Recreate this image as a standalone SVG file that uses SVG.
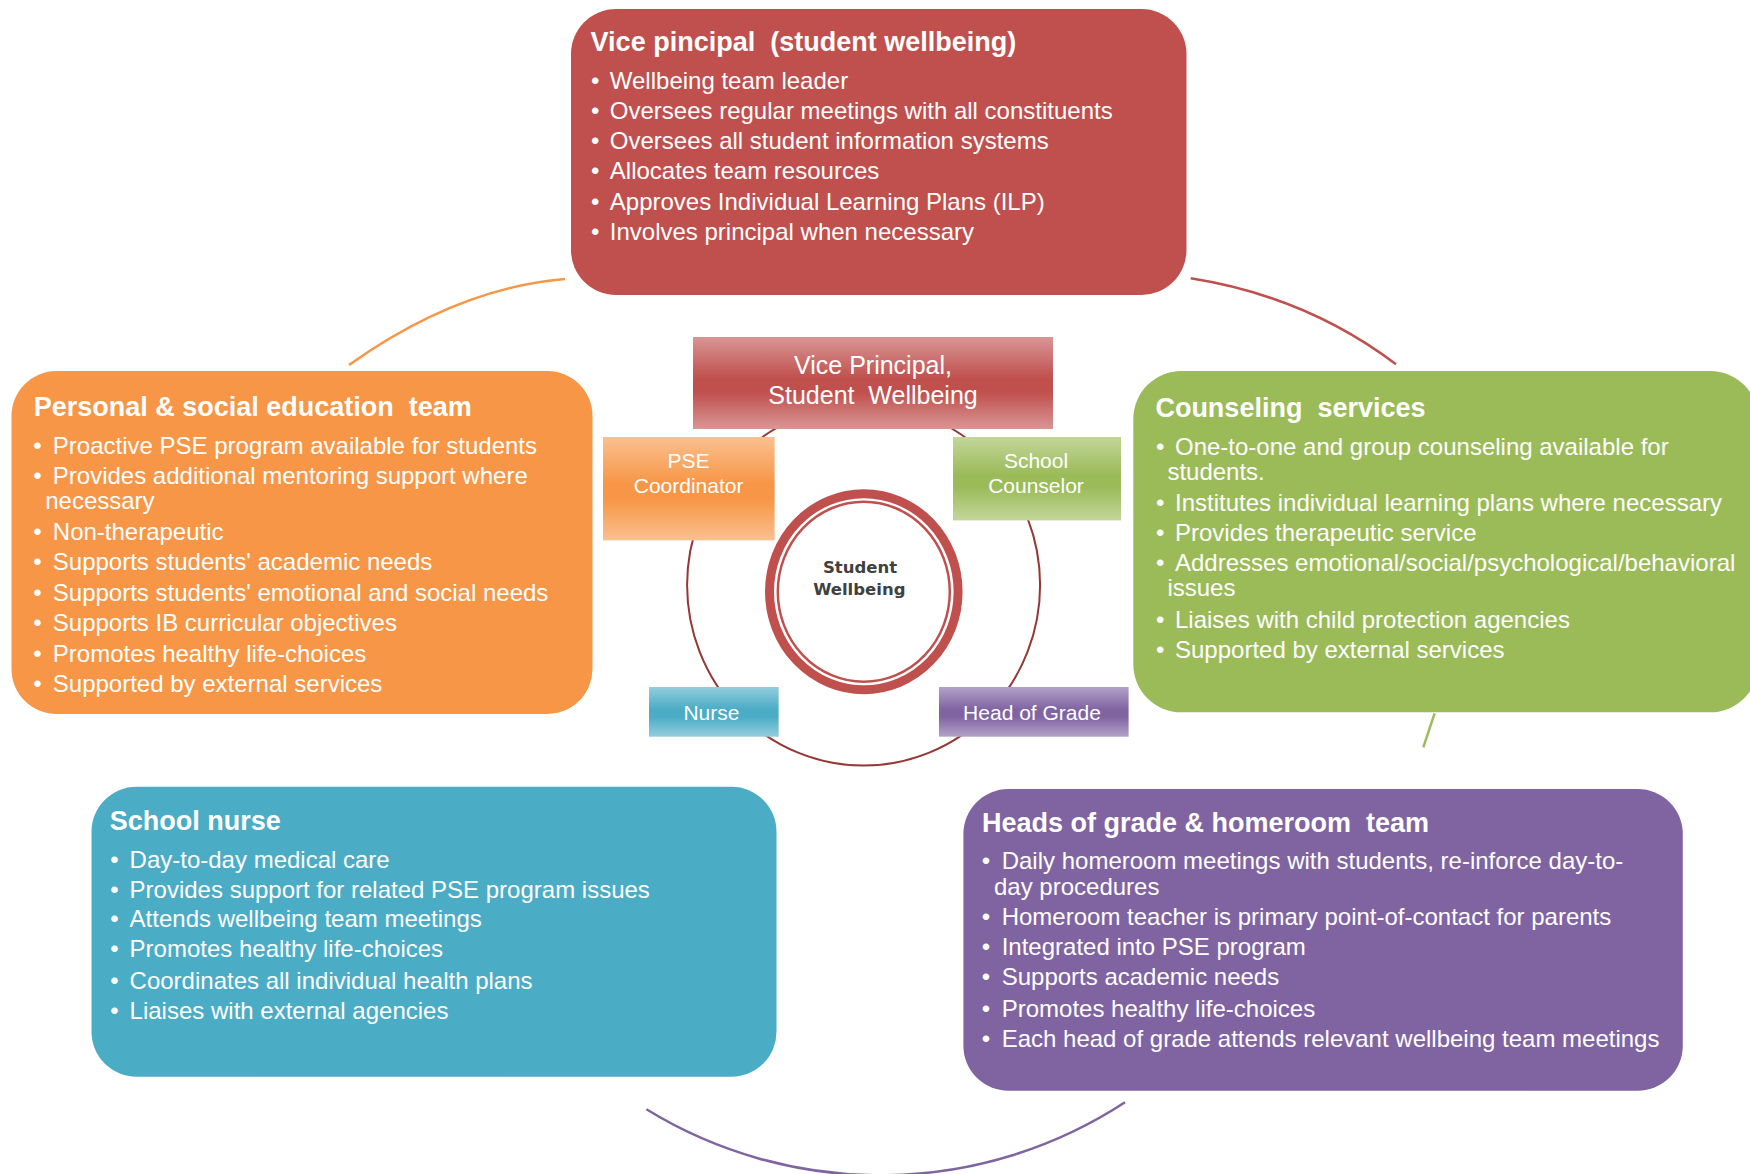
<svg xmlns="http://www.w3.org/2000/svg" width="1750" height="1174" viewBox="0 0 1750 1174">
<defs>
<style>
.t{font-family:"Liberation Sans",Arial,sans-serif;font-weight:bold;font-size:27px;fill:#fff;white-space:pre}
.b{font-family:"Liberation Sans",Arial,sans-serif;font-size:24px;fill:#fff}
.s{font-family:"Liberation Sans",Arial,sans-serif;font-size:21px;fill:#fff;text-anchor:middle}
.v{font-family:"Liberation Sans",Arial,sans-serif;font-size:25px;fill:#fff;text-anchor:middle;white-space:pre}
.c{font-family:"DejaVu Sans",Verdana,sans-serif;font-weight:bold;font-size:16.5px;fill:#404040;text-anchor:middle}
.arc{fill:none;stroke-width:2.5}
</style>
<linearGradient id="gR" x1="0" y1="0" x2="0" y2="1"><stop offset="0" stop-color="#d99694"/><stop offset="0.45" stop-color="#c0504d"/><stop offset="0.6" stop-color="#c0504d"/><stop offset="1" stop-color="#d99694"/></linearGradient>
<linearGradient id="gO" x1="0" y1="0" x2="0" y2="1"><stop offset="0" stop-color="#fac090"/><stop offset="0.45" stop-color="#f79646"/><stop offset="0.6" stop-color="#f79646"/><stop offset="1" stop-color="#fac090"/></linearGradient>
<linearGradient id="gG" x1="0" y1="0" x2="0" y2="1"><stop offset="0" stop-color="#c3d69b"/><stop offset="0.45" stop-color="#9bbb59"/><stop offset="0.6" stop-color="#9bbb59"/><stop offset="1" stop-color="#c3d69b"/></linearGradient>
<linearGradient id="gB" x1="0" y1="0" x2="0" y2="1"><stop offset="0" stop-color="#93cddd"/><stop offset="0.45" stop-color="#4bacc6"/><stop offset="0.6" stop-color="#4bacc6"/><stop offset="1" stop-color="#93cddd"/></linearGradient>
<linearGradient id="gP" x1="0" y1="0" x2="0" y2="1"><stop offset="0" stop-color="#b2a2c7"/><stop offset="0.45" stop-color="#8064a2"/><stop offset="0.6" stop-color="#8064a2"/><stop offset="1" stop-color="#b2a2c7"/></linearGradient>
</defs>
<rect width="1750" height="1174" fill="#fff"/>

<g id="connectors">
<ellipse cx="863.6" cy="585" rx="176.5" ry="180.6" fill="none" stroke="#953735" stroke-width="2"/>
<path class="arc" d="M349 365 Q457 288 565 279" stroke="#f79646"/>
<path class="arc" d="M1190.7 278.3 Q1306.6 296.6 1396 364.3" stroke="#c0504d"/>
<path class="arc" d="M1434.6 713.3 L1423.3 747.3" stroke="#9bbb59" stroke-width="2"/>
<path class="arc" d="M646.4 1109.3 A447 447 0 0 0 1125 1102.3" stroke="#8064a2"/>
</g>

<g id="vp-team">
<rect x="571" y="9" width="615.5" height="286" rx="45" fill="#c0504d"/>
<text class="t" x="590.6" y="50.7">Vice pincipal  (student wellbeing)</text>
<text class="b" y="89.3"><tspan x="591">•</tspan><tspan x="609.8">Wellbeing team leader</tspan></text>
<text class="b" y="118.7"><tspan x="591">•</tspan><tspan x="609.8">Oversees regular meetings with all constituents</tspan></text>
<text class="b" y="149"><tspan x="591">•</tspan><tspan x="609.8">Oversees all student information systems</tspan></text>
<text class="b" y="179"><tspan x="591">•</tspan><tspan x="609.8">Allocates team resources</tspan></text>
<text class="b" y="210"><tspan x="591">•</tspan><tspan x="609.8">Approves Individual Learning Plans (ILP)</tspan></text>
<text class="b" y="240"><tspan x="591">•</tspan><tspan x="609.8">Involves principal when necessary</tspan></text>
</g>

<g id="pse-team">
<rect x="11.5" y="371" width="581" height="343" rx="45" fill="#f79646"/>
<text class="t" x="33.7" y="415.7">Personal &amp; social education  team</text>
<text class="b" y="454"><tspan x="33.3">•</tspan><tspan x="52.8">Proactive PSE program available  for students</tspan></text>
<text class="b" y="484"><tspan x="33.3">•</tspan><tspan x="52.8">Provides additional mentoring support where</tspan></text>
<text class="b" x="45.2" y="509.3">necessary</text>
<text class="b" y="540"><tspan x="33.3">•</tspan><tspan x="52.8">Non-therapeutic</tspan></text>
<text class="b" y="570"><tspan x="33.3">•</tspan><tspan x="52.8">Supports students' academic needs</tspan></text>
<text class="b" y="600.7"><tspan x="33.3">•</tspan><tspan x="52.8">Supports students' emotional and social needs</tspan></text>
<text class="b" y="630.7"><tspan x="33.3">•</tspan><tspan x="52.8">Supports IB curricular objectives</tspan></text>
<text class="b" y="661.7"><tspan x="33.3">•</tspan><tspan x="52.8">Promotes healthy life-choices</tspan></text>
<text class="b" y="692.3"><tspan x="33.3">•</tspan><tspan x="52.8">Supported by external services</tspan></text>
</g>

<g id="counseling">
<rect x="1133.3" y="371" width="625" height="341.3" rx="48" fill="#9bbb59"/>
<text class="t" x="1155.4" y="417.3">Counseling  services</text>
<text class="b" y="455"><tspan x="1156">•</tspan><tspan x="1175">One-to-one and group counseling available for</tspan></text>
<text class="b" x="1167.4" y="480">students.</text>
<text class="b" y="510.7"><tspan x="1156">•</tspan><tspan x="1175">Institutes individual learning plans where necessary</tspan></text>
<text class="b" y="541"><tspan x="1156">•</tspan><tspan x="1175">Provides therapeutic service</tspan></text>
<text class="b" y="570.7"><tspan x="1156">•</tspan><tspan x="1175">Addresses emotional/social/psychological/behavioral</tspan></text>
<text class="b" x="1167.4" y="596">issues</text>
<text class="b" y="628.3"><tspan x="1156">•</tspan><tspan x="1175">Liaises with child protection agencies</tspan></text>
<text class="b" y="658.3"><tspan x="1156">•</tspan><tspan x="1175">Supported by external services</tspan></text>
</g>

<g id="school-nurse">
<rect x="91.5" y="786.7" width="685" height="290" rx="45" fill="#4bacc6"/>
<text class="t" x="109.8" y="830">School nurse</text>
<text class="b" y="867.7"><tspan x="110.2">•</tspan><tspan x="129.6">Day-to-day medical care</tspan></text>
<text class="b" y="897.7"><tspan x="110.2">•</tspan><tspan x="129.6">Provides support for related PSE program issues</tspan></text>
<text class="b" y="927.3"><tspan x="110.2">•</tspan><tspan x="129.6">Attends wellbeing team meetings</tspan></text>
<text class="b" y="957.3"><tspan x="110.2">•</tspan><tspan x="129.6">Promotes healthy life-choices</tspan></text>
<text class="b" y="989.3"><tspan x="110.2">•</tspan><tspan x="129.6">Coordinates all individual health plans</tspan></text>
<text class="b" y="1019.3"><tspan x="110.2">•</tspan><tspan x="129.6">Liaises with external agencies</tspan></text>
</g>

<g id="heads-of-grade">
<rect x="963.4" y="789" width="719.4" height="301.7" rx="45" fill="#8064a2"/>
<text class="t" x="982" y="831.7">Heads of grade &amp; homeroom  team</text>
<text class="b" y="869.3"><tspan x="981.7">•</tspan><tspan x="1001.7">Daily homeroom meetings with students, re-inforce day-to-</tspan></text>
<text class="b" x="994" y="895">day procedures</text>
<text class="b" y="925"><tspan x="981.7">•</tspan><tspan x="1001.7">Homeroom teacher is primary point-of-contact for parents</tspan></text>
<text class="b" y="955"><tspan x="981.7">•</tspan><tspan x="1001.7">Integrated into PSE program</tspan></text>
<text class="b" y="985"><tspan x="981.7">•</tspan><tspan x="1001.7">Supports academic needs</tspan></text>
<text class="b" y="1016.7"><tspan x="981.7">•</tspan><tspan x="1001.7">Promotes healthy life-choices</tspan></text>
<text class="b" y="1046.7"><tspan x="981.7">•</tspan><tspan x="1001.7">Each head of grade attends relevant wellbeing team meetings</tspan></text>
</g>

<g id="center-vp">
<rect x="693" y="337" width="360" height="92" fill="url(#gR)"/>
<text class="v" x="873" y="373.5">Vice Principal,</text>
<text class="v" x="873" y="403.5">Student  Wellbeing</text>
</g>

<g id="center-pse">
<rect x="603" y="437" width="171.6" height="103.4" fill="url(#gO)"/>
<text class="s" x="688.6" y="468.3">PSE</text>
<text class="s" x="688.6" y="492.7">Coordinator</text>
</g>

<g id="center-counselor">
<rect x="953" y="437" width="168" height="83.4" fill="url(#gG)"/>
<text class="s" x="1036" y="468.3">School</text>
<text class="s" x="1036" y="492.7">Counselor</text>
</g>

<g id="center-nurse">
<rect x="649" y="687" width="129.6" height="49.7" fill="url(#gB)"/>
<text class="s" x="711.4" y="720">Nurse</text>
</g>

<g id="center-head">
<rect x="939" y="687" width="189.6" height="49.7" fill="url(#gP)"/>
<text class="s" x="1032" y="720">Head of Grade</text>
</g>

<g id="student-wellbeing">
<ellipse cx="863.8" cy="591.7" rx="94.3" ry="98" fill="#fff" stroke="#c0504d" stroke-width="9"/>
<ellipse cx="863.8" cy="591.7" rx="86" ry="90" fill="none" stroke="#c0504d" stroke-width="2.5"/>
<text class="c" x="860" y="572.7">Student</text>
<text class="c" x="859.3" y="595">Wellbeing</text>
</g>
</svg>
